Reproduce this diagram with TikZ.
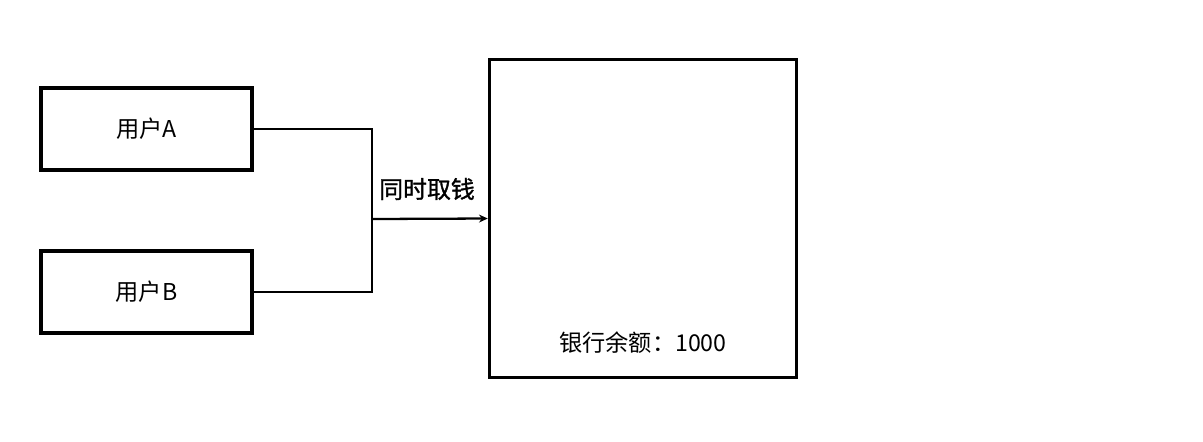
\documentclass[tikz,border=0pt]{standalone}
\usepackage{fontspec}
\setmainfont{Noto Sans CJK SC}
\newfontfamily\semibold[FakeBold=1.2]{Noto Sans CJK SC}
\usetikzlibrary{arrows.meta, positioning}
\definecolor{mydark}{RGB}{0,0,0}
\tikzset{
  line/.style={draw=mydark, line width=1.3pt},
  arrow/.style={draw=mydark, line width=1.3pt, -{Stealth[length=5pt, width=4.5pt]}},
  userbox/.style={draw=mydark, line width=2pt, rectangle, minimum width=4.22cm, minimum height=1.64cm, font=\fontsize{13.2}{15}\selectfont}
}
\begin{document}
\begin{tikzpicture}[x=0.02cm, y=-0.02cm]
  \useasboundingbox (0,0) rectangle (1203,441);
  \node [userbox] (ua) at (146.5,129) {用户A};
  \node [userbox] (ub) at (146.5,292) {用户B};
  \node [userbox, minimum width=6.14cm, minimum height=6.36cm] (bank) at (643,218.5) {};
  \node [font=\fontsize{13.2}{15}\selectfont] (bal) at (643,343) {银行余额：1000};
  \coordinate (j) at (372,219);

  \draw [line] (ua.east) -| (j);
  \draw [line] (ub.east) -| (j);
  \draw [arrow] (j) -- (bank.west);
  \node [font=\fontsize{13.6}{15}\selectfont\semibold] (lbl) at (427,189) {同时取钱};
\end{tikzpicture}
\end{document}
